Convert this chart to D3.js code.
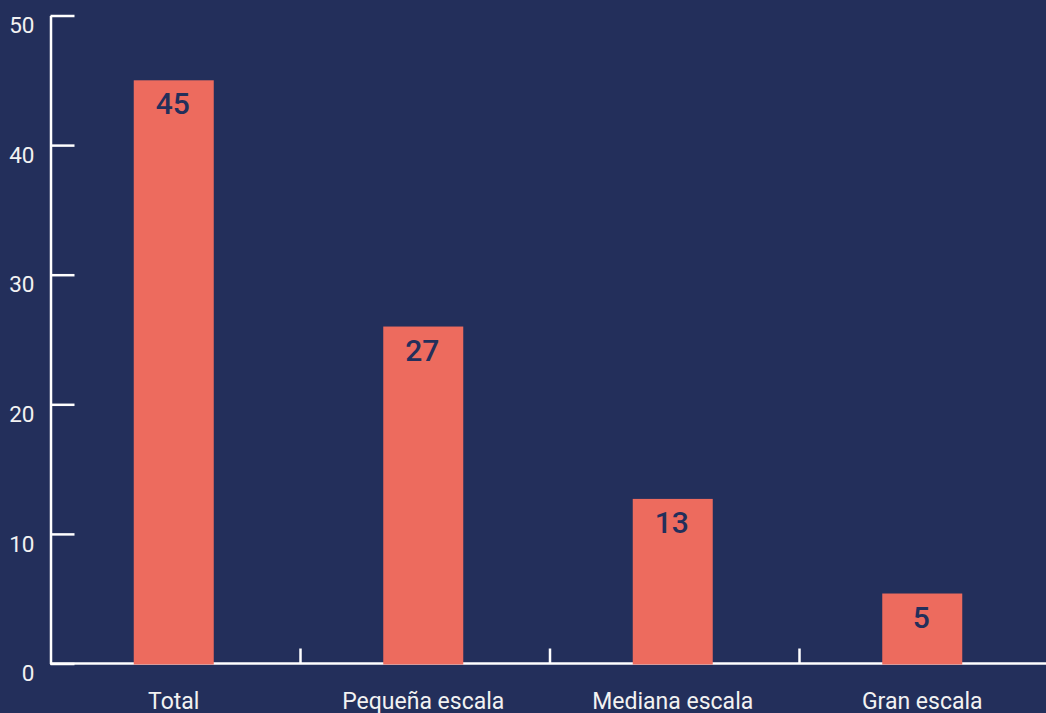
<!DOCTYPE html>
<html>
<head>
<meta charset="utf-8">
<script src="https://cdn.jsdelivr.net/npm/d3@7"></script>
<style>
  html, body { margin: 0; padding: 0; background: #232f5b; overflow: hidden; }
  svg { display: block; font-family: Roboto, "Noto Sans", sans-serif; }
</style>
</head>
<body>
<svg id="chart" width="1046" height="713"></svg>
<script>
const categories = ['Total', 'Pequeña escala', 'Mediana escala', 'Gran escala'];
const values = [45, 26, 12.7, 5.4];
const valueLabels = ['45', '27', '13', '5'];
const yTicks = [0, 10, 20, 30, 40, 50];

const width = 1046;
const height = 713;
const bg = '#232f5b';
const barColor = '#ed6b5e';
const axisColor = '#ffffff';
const textColor = '#f2f2f2';

const svg = d3.select('#chart');

svg.append('rect')
  .attr('width', width)
  .attr('height', height)
  .attr('fill', bg);

const x = d3.scaleBand()
  .domain(categories)
  .range([50, 1048])
  .padding(0);

const y = d3.scaleLinear()
  .domain([0, 50])
  .range([663.5, 15.5]);

// y axis, ticks drawn into the plot
const yAxis = svg.append('g')
  .attr('transform', 'translate(50.5,0)')
  .call(
    d3.axisLeft(y)
      .tickValues(yTicks)
      .tickSizeInner(-24)
      .tickSizeOuter(0)
      .tickPadding(16),
  );

yAxis.select('.domain')
  .attr('stroke', axisColor)
  .attr('stroke-width', 2.5);
yAxis.selectAll('.tick line')
  .attr('stroke', axisColor)
  .attr('stroke-width', 2.5);
yAxis.selectAll('.tick text')
  .attr('fill', textColor)
  .attr('font-size', 22.5)
  .attr('font-family', 'Roboto, sans-serif')
  .attr('y', 10);

// x axis line and boundary ticks
const x0 = y(0);
svg.append('line')
  .attr('x1', 50)
  .attr('x2', width)
  .attr('y1', x0)
  .attr('y2', x0)
  .attr('stroke', axisColor)
  .attr('stroke-width', 2.5);

svg.append('g')
  .selectAll('line')
  .data(categories.slice(1))
  .enter()
  .append('line')
  .attr('x1', (d) => x(d) + 1)
  .attr('x2', (d) => x(d) + 1)
  .attr('y1', x0)
  .attr('y2', x0 - 15)
  .attr('stroke', axisColor)
  .attr('stroke-width', 2.5);

svg.append('g')
  .selectAll('text')
  .data(categories)
  .enter()
  .append('text')
  .attr('x', (d) => x(d) + x.bandwidth() / 2 - 1)
  .attr('y', 708.5)
  .attr('text-anchor', 'middle')
  .attr('fill', textColor)
  .attr('font-size', 23)
  .text((d) => d);

// bars
const barWidth = 80;
const bars = svg.append('g')
  .selectAll('g')
  .data(categories.map((c, i) => ({ cat: c, value: values[i], label: valueLabels[i] })))
  .enter()
  .append('g');

bars.append('rect')
  .attr('x', (d) => x(d.cat) + x.bandwidth() / 2 - barWidth / 2 - 1)
  .attr('y', (d) => y(d.value))
  .attr('width', barWidth)
  .attr('height', (d) => y(0) - y(d.value) + 1)
  .attr('fill', barColor);

bars.append('text')
  .attr('x', (d) => x(d.cat) + x.bandwidth() / 2 - 2)
  .attr('y', (d) => y(d.value) + 34)
  .attr('text-anchor', 'middle')
  .attr('fill', bg)
  .attr('font-size', 30)
  .attr('font-weight', 500)
  .text((d) => d.label);
</script>
</body>
</html>
